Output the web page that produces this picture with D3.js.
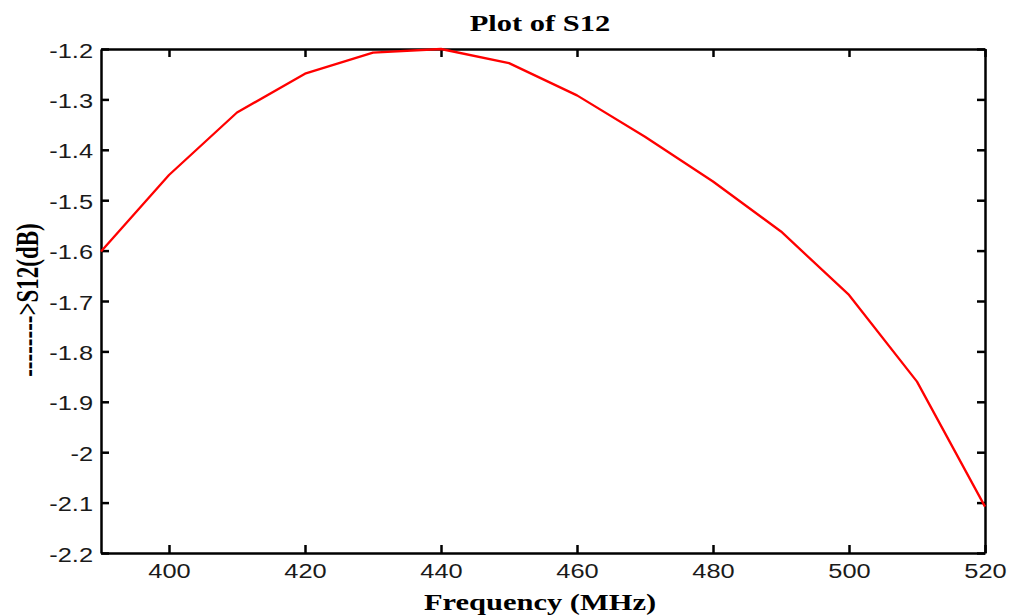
<!DOCTYPE html>
<html>
<head>
<meta charset="utf-8">
<script src="https://cdn.jsdelivr.net/npm/d3@7"></script>
<style>
  body { margin: 0; background: #fff; }
  svg { display: block; }
</style>
</head>
<body>
<div id="chart"></div>
<script>
// S12 readings, one every 10 MHz
var freqs = [390, 400, 410, 420, 430, 440, 450, 460, 470, 480, 490, 500, 510, 520];
var s12 = [-1.602, -1.450, -1.326, -1.249, -1.207, -1.200, -1.228, -1.292,
           -1.374, -1.463, -1.562, -1.688, -1.860, -2.108];

var xTicks = [400, 420, 440, 460, 480, 500, 520];
var xTickLabels = ["400", "420", "440", "460", "480", "500", "520"];
var yTicks = [-2.2, -2.1, -2.0, -1.9, -1.8, -1.7, -1.6, -1.5, -1.4, -1.3, -1.2];
var yTickLabels = ["-2.2", "-2.1", "-2", "-1.9", "-1.8", "-1.7", "-1.6", "-1.5", "-1.4", "-1.3", "-1.2"];

var width = 1015;
var height = 616;
// plot box edges (note: "top" is taken by window.top, so prefix them)
var boxLeft = 101, boxRight = 985, boxTop = 49, boxBottom = 553;
var stretch = 1.27; // the original picture is widened sideways

var svg = d3.select("#chart")
  .append("svg")
  .attr("width", width)
  .attr("height", height);

var x = d3.scaleLinear().domain([390, 520]).range([boxLeft, boxRight]);
var y = d3.scaleLinear().domain([-2.2, -1.2]).range([boxBottom, boxTop]);

function styleAxis(g) {
  g.select(".domain").attr("stroke", "#000").attr("stroke-width", 2.5);
  g.selectAll(".tick line").attr("stroke", "#000").attr("stroke-width", 2.5);
}

// bottom axis with labels
var gx = svg.append("g")
  .attr("transform", "translate(0," + boxBottom + ")")
  .call(d3.axisBottom(x).tickValues(xTicks)
    .tickFormat(function (d, i) { return xTickLabels[i]; })
    .tickSizeInner(-8).tickSizeOuter(0));
styleAxis(gx);
gx.selectAll(".tick text")
  .attr("y", 25).attr("dy", 0)
  .attr("transform", "scale(" + stretch + ",1)")
  .style("font-family", "'Liberation Sans', Arial, sans-serif")
  .style("font-size", "20px")
  .attr("fill", "#1a1a1a");

// left axis with labels
var gy = svg.append("g")
  .attr("transform", "translate(" + boxLeft + ",0)")
  .call(d3.axisLeft(y).tickValues(yTicks)
    .tickFormat(function (d, i) { return yTickLabels[i]; })
    .tickSizeInner(-8).tickSizeOuter(0));
styleAxis(gy);
gy.selectAll(".tick text")
  .attr("x", -8 / stretch).attr("dy", "8px")
  .attr("transform", "scale(" + stretch + ",1)")
  .style("font-family", "'Liberation Sans', Arial, sans-serif")
  .style("font-size", "20px")
  .attr("fill", "#1a1a1a");

// top and right: box edges with inward ticks, no labels
var gt = svg.append("g")
  .attr("transform", "translate(0," + boxTop + ")")
  .call(d3.axisTop(x).tickValues(xTicks).tickFormat("")
    .tickSizeInner(-8).tickSizeOuter(0));
styleAxis(gt);

var gr = svg.append("g")
  .attr("transform", "translate(" + boxRight + ",0)")
  .call(d3.axisRight(y).tickValues(yTicks).tickFormat("")
    .tickSizeInner(-8).tickSizeOuter(0));
styleAxis(gr);

// the S12 curve
var line = d3.line()
  .x(function (d, i) { return x(freqs[i]); })
  .y(function (d) { return y(d); });

svg.append("path")
  .datum(s12)
  .attr("d", line)
  .attr("fill", "none")
  .attr("stroke", "#ff0000")
  .attr("stroke-width", 2.3)
  .attr("stroke-linejoin", "round");

// titles
var serif = "'Liberation Serif', 'Times New Roman', serif";

svg.append("text")
  .attr("transform", "translate(540,31) scale(" + stretch + ",1)")
  .attr("text-anchor", "middle")
  .style("font-family", serif)
  .style("font-weight", "bold")
  .style("font-size", "24px")
  .text("Plot of S12");

svg.append("text")
  .attr("transform", "translate(540,610) scale(" + stretch + ",1)")
  .attr("text-anchor", "middle")
  .style("font-family", serif)
  .style("font-weight", "bold")
  .style("font-size", "24px")
  .text("Frequency (MHz)");

svg.append("text")
  .attr("transform", "translate(38,300) scale(1.35,1) rotate(-90)")
  .attr("text-anchor", "middle")
  .style("font-family", serif)
  .style("font-weight", "bold")
  .style("font-size", "23px")
  .text("-------->S12(dB)");
</script>
</body>
</html>
